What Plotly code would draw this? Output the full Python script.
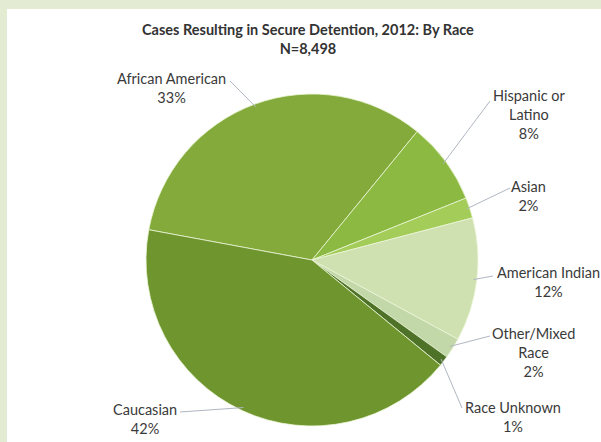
import math
import plotly.graph_objects as go

# Secure detention cases by race, 2012 (percent of N=8,498)
races = ["African American", "Hispanic or Latino", "Asian", "American Indian",
         "Other/Mixed Race", "Race Unknown", "Caucasian"]
label_text = ["African American<br>33%", "Hispanic or<br>Latino<br>8%", "Asian<br>2%",
              "American Indian<br>12%", "Other/Mixed<br>Race<br>2%", "Race Unknown<br>1%",
              "Caucasian<br>42%"]
shares = [33, 8, 2, 12, 2, 1, 42]
colors = ["#83aa3a", "#8cb941", "#a3cc58", "#cfe0b1", "#c2d8a8", "#4d7228", "#6f952e"]

W, H = 601, 442
CX, CY, R = 312, 260, 166          # pie centre and radius in pixels
ROTATION = 280.5                   # clockwise start angle of the first slice

# label block centres and leader-line anchors (pixels)
label_pos = [(171, 88), (529, 115), (528, 196), (548, 282), (533, 352), (513, 417), (145, 419)]
leader_from = [(230, 81), (490, 101), (510, 188), (493, 276), (490, 336), (462, 408), (180, 412)]


def px(x, y):
    return x / W, 1 - y / H


fig = go.Figure()
fig.add_trace(go.Pie(
    labels=races, values=shares, sort=False, direction="clockwise",
    rotation=ROTATION, textinfo="none", hoverinfo="label+percent",
    marker=dict(colors=colors, line=dict(color="rgba(235,245,215,0.8)", width=1)),
    domain=dict(x=[(CX - R) / W, (CX + R) / W], y=[(H - CY - R) / H, (H - CY + R) / H]),
    showlegend=False,
))

shapes = [dict(type="rect", xref="paper", yref="paper", x0=7 / W, x1=1, y0=0, y1=1 - 9 / H,
               fillcolor="white", line=dict(width=0), layer="below")]
annotations = []
total = sum(shares)
start = ROTATION
for name, txt, v, (lx, ly), (fx, fy) in zip(races, label_text, shares, label_pos, leader_from):
    mid = math.radians(start + 360 * v / total / 2)
    start += 360 * v / total
    ex = CX + 0.98 * R * math.sin(mid)
    ey = CY - 0.98 * R * math.cos(mid)
    x0, y0 = px(fx, fy)
    x1, y1 = px(ex, ey)
    shapes.append(dict(type="line", xref="paper", yref="paper", x0=x0, y0=y0, x1=x1, y1=y1,
                       line=dict(color="#b0b6c2", width=1)))
    ax, ay = px(lx, ly)
    annotations.append(dict(x=ax, y=ay, xref="paper", yref="paper", text=txt, showarrow=False,
                            xanchor="center", yanchor="middle", align="center",
                            font=dict(family="Lato", size=14.5, color="#3a3a3a")))

tx, ty = px(308, 39)
annotations.append(dict(x=tx, y=ty, xref="paper", yref="paper",
                        text="<b>Cases Resulting in Secure Detention, 2012: By Race</b><br><b>N=8,498</b>",
                        showarrow=False, xanchor="center", yanchor="middle", align="center",
                        font=dict(family="Lato", size=14.5, color="#333333")))

fig.update_layout(
    width=W, height=H, margin=dict(l=0, r=0, t=0, b=0),
    paper_bgcolor="#e3ebd2", plot_bgcolor="white",
    shapes=shapes, annotations=annotations,
)
fig.write_html("out.html")
